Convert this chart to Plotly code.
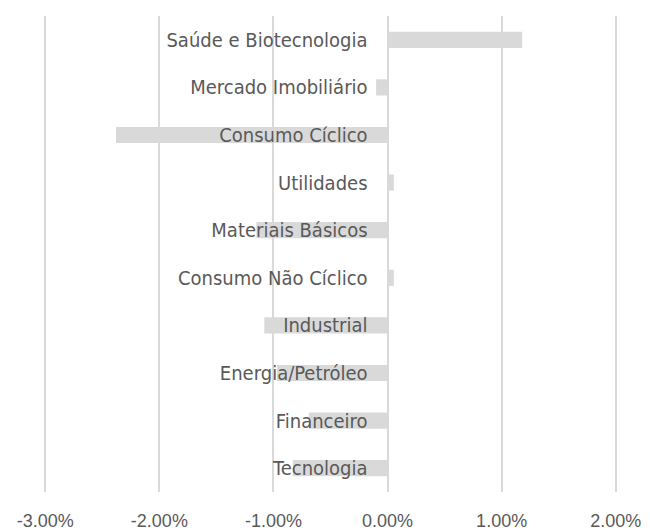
import plotly.graph_objects as go

categories = ["Tecnologia", "Financeiro", "Energia/Petróleo", "Industrial",
              "Consumo Não Cíclico", "Materiais Básicos", "Utilidades",
              "Consumo Cíclico", "Mercado Imobiliário", "Saúde e Biotecnologia"]
values = [-0.83, -0.69, -0.97, -1.08, 0.055, -1.15, 0.055, -2.38, -0.10, 1.18]
tick_vals = [-3, -2, -1, 0, 1, 2]
tick_text = ["-3.00%", "-2.00%", "-1.00%", "0.00%", "1.00%", "2.00%"]

x_min, x_max = -3.02, 2.02

fig = go.Figure(go.Bar(
    x=values, y=categories, orientation="h",
    marker=dict(color="#d9d9d9", line=dict(width=0)),
    width=0.34,
))

fig.update_layout(
    width=642, height=522,
    margin=dict(l=35, r=32, t=8, b=38, autoexpand=False),
    paper_bgcolor="white", plot_bgcolor="white",
    showlegend=False,
    xaxis=dict(range=[x_min, x_max], tickvals=tick_vals, ticktext=tick_text,
               showgrid=True, gridcolor="#d9d9d9", gridwidth=1.5,
               zeroline=False, showline=False, ticks="", automargin=False,
               tickfont=dict(family="Liberation Sans", size=18, color="#595959"),
               ticklabelstandoff=16),
    yaxis=dict(anchor="free", position=(0 - x_min) / (x_max - x_min),
               showgrid=False, zeroline=False,
               showline=False, ticks="", range=[-0.5, 9.5], automargin=False,
               tickfont=dict(family="DejaVu Sans Condensed, Liberation Sans Narrow, Noto Sans",
                             size=20, color="#595959"),
               ticklabelstandoff=20),
)

fig.write_html("out.html")
